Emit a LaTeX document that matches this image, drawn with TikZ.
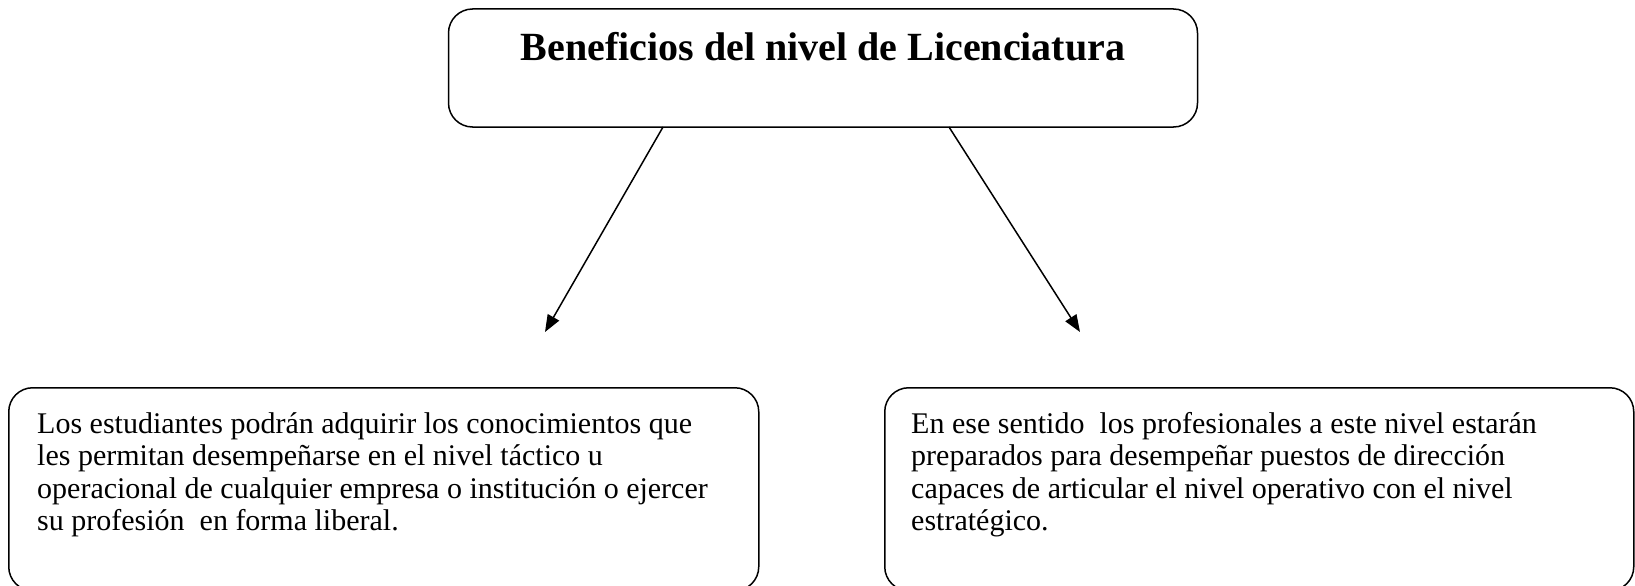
\documentclass[tikz,border=0pt]{standalone}
\usepackage{fontspec}
\setmainfont{Liberation Serif}
\usetikzlibrary{arrows.meta}
\begin{document}
\begin{tikzpicture}[x=1pt,y=-1pt,
  box/.style={draw, line width=1.5pt, rounded corners=24pt, inner sep=0pt},
  body/.style={font=\fontsize{30}{32.5}\selectfont, align=left, inner sep=0pt, anchor=base west},
  arr/.style={line width=1.5pt, -{Triangle[length=17pt,width=13pt]}}]
\useasboundingbox (0,0) rectangle (1635,586);
\clip (0,0) rectangle (1635,586);
\node[box, minimum width=749pt, minimum height=118pt] (top) at (823,68) {};
\node[font=\bfseries\fontsize{40}{44}\selectfont, inner sep=0pt, anchor=base] (ttl) at (823,60) {Beneficios del nivel de Licenciatura};
\node[box, minimum width=750pt, minimum height=203pt, anchor=north west] (lbox) at (8,387) {};
\node[box, minimum width=749pt, minimum height=203pt, anchor=north west] (rbox) at (884,387) {};
\node[body] (ltxt) at (37,530.5) {Los estudiantes podrán adquirir los conocimientos que\\les permitan desempeñarse en el nivel táctico u\\operacional de cualquier empresa o institución o ejercer\\su profesión\ \ en forma liberal.};
\node[body] (rtxt) at (911,530.5) {En ese sentido\ \ los profesionales a este nivel estarán\\preparados para desempeñar puestos de dirección\\capaces de articular el nivel operativo con el nivel\\estratégico.};
\coordinate (s1) at (663,127);
\coordinate (e1) at (545,332);
\coordinate (s2) at (949,127);
\coordinate (e2) at (1080,332);
\draw[arr] (s1) -- (e1);
\draw[arr] (s2) -- (e2);
\end{tikzpicture}
\end{document}
